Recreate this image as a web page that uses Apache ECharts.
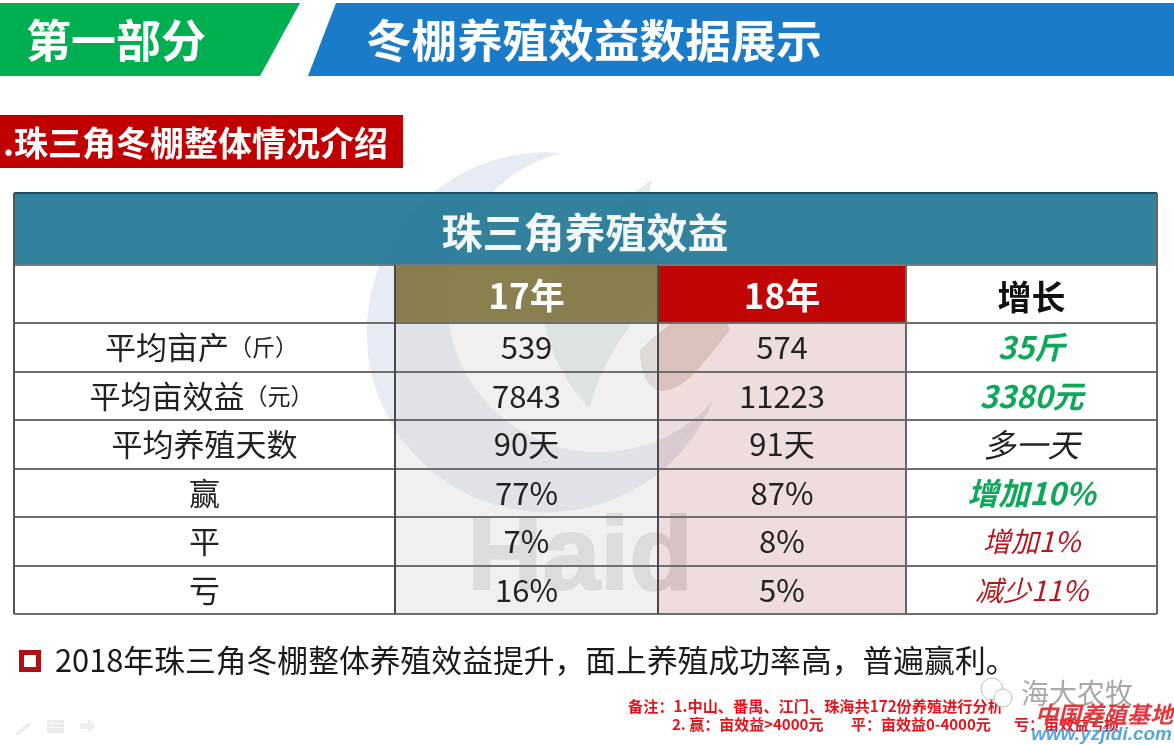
<!DOCTYPE html>
<html>
<head>
<meta charset="utf-8">
<title>冬棚养殖效益数据展示</title>
<script src="https://cdn.jsdelivr.net/npm/echarts@6/dist/echarts.min.js"></script>
<style>
  html, body { margin: 0; padding: 0; background: #fff; }
  #main { width: 1174px; height: 745px; }
</style>
</head>
<body>
<div id="main"></div>
<script>
// 表格数据
const tableTitle = '珠三角养殖效益';
const columnHeads = ['', '17年', '18年', '增长'];
const rowLabels = ['平均亩产', '平均亩效益', '平均养殖天数', '赢', '平', '亏'];
const rowUnits = ['（斤）', '（元）', '', '', '', ''];
const values17 = ['539', '7843', '90天', '77%', '7%', '16%'];
const values18 = ['574', '11223', '91天', '87%', '8%', '5%'];
const growthText = ['35斤', '3380元', '多一天', '增加10%', '增加1%', '减少11%'];
const growthKind = ['up', 'up', 'flat', 'up', 'down', 'down'];

const summaryText = '2018年珠三角冬棚整体养殖效益提升，面上养殖成功率高，普遍赢利。';
const noteLine1 = '备注：1.中山、番禺、江门、珠海共172份养殖进行分析';
const noteLine2 = ['2. 赢：亩效益>4000元', '平：亩效益0-4000元', '亏：亩效益亏损'];

// 版面
const colX = [14, 395, 658, 906, 1157];
const rowY = [265, 323, 372, 420, 469, 517, 566, 614];
const CJK = '"Noto Sans CJK SC", "Noto Sans", sans-serif';
const growthStyle = {
    up: {fill: '#0FA85A', fontWeight: 'bold', fontSize: 31},
    flat: {fill: '#222', fontWeight: 'normal', fontSize: 32},
    down: {fill: '#B8141C', fontWeight: 'normal', fontSize: 28}
};

const items = [];
let pathCount = 0;

function text(str, x, y, size, fill, extra) {
    items.push({
        type: 'text',
        style: Object.assign({
            text: str, x: x, y: y, fontSize: size, fill: fill, fontFamily: CJK,
            align: 'center', verticalAlign: 'middle'
        }, extra || {})
    });
}
function rect(x, y, w, h, fill) {
    items.push({type: 'rect', shape: {x: x, y: y, width: w, height: h}, style: {fill: fill}});
}
function line(x1, y1, x2, y2, color, width) {
    items.push({type: 'line', shape: {x1: x1, y1: y1, x2: x2, y2: y2}, style: {stroke: color, lineWidth: width}});
}
function poly(points, fill) {
    items.push({type: 'polygon', shape: {points: points}, style: {fill: fill}});
}
function path(d, fill) {
    // graphic 组件没有 path 类型，注册成自定义形状
    const name = 'wmPath' + (pathCount++);
    echarts.graphic.registerShape(name, echarts.graphic.extendPath(d, {}));
    items.push({type: name, style: {fill: fill}});
}

// 背景水印
path('M 562 153 A 180 180 0 1 0 713 401 A 152 152 0 1 1 562 153 Z', '#E7ECF4');
path('M 652 180 C 610 205 565 260 541 300 C 545 345 565 385 590 408 C 600 360 640 310 672 270 C 650 260 640 225 652 180 Z', '#E4EDE8');
path('M 745 272 C 705 300 665 325 640 350 C 640 375 650 395 668 390 C 690 385 705 360 730 330 C 720 310 730 290 745 272 Z', '#E8E0DA');
path('M 713 401 C 695 425 675 445 660 452 C 685 440 700 425 713 401 Z', '#E4E4E4');
text('Haid', 580, 560, 104, '#E2E2E2', {
    fontFamily: '"Liberation Sans", Arial, sans-serif', fontWeight: 'bold',
    stroke: '#E2E2E2', lineWidth: 2
});

// 顶部标题
poly([[0, 3], [300, 3], [260, 76], [0, 76]], '#00B050');
poly([[336, 3], [1174, 3], [1174, 76], [308, 76]], '#1A7BC8');
text('第一部分', 26, 41, 45, '#fff', {fontWeight: 'bold', align: 'left'});
text('冬棚养殖效益数据展示', 366, 41, 45.6, '#fff', {fontWeight: 'bold', align: 'left'});

rect(0, 115, 403, 53, '#C00000');
text('.珠三角冬棚整体情况介绍', 3, 143, 34, '#fff', {fontWeight: 'bold', align: 'left'});

// 表头
rect(colX[0], 193, colX[4] - colX[0], rowY[0] - 193, 'rgba(28,115,146,0.9)');
text(tableTitle, 585, 232, 41, '#F2F7F7', {fontWeight: 'bold'});
rect(colX[1], rowY[0], colX[2] - colX[1], rowY[1] - rowY[0], 'rgba(128,116,64,0.92)');
rect(colX[2], rowY[0], colX[3] - colX[2], rowY[1] - rowY[0], 'rgba(192,0,0,0.98)');
rect(colX[1], rowY[1], colX[2] - colX[1], rowY[7] - rowY[1], 'rgba(205,205,205,0.3)');
rect(colX[2], rowY[1], colX[3] - colX[2], rowY[7] - rowY[1], 'rgba(150,20,20,0.15)');
rect(colX[3], rowY[0], colX[4] - colX[3], rowY[7] - rowY[0], '#fff');

text(columnHeads[1], (colX[1] + colX[2]) / 2, 296, 35, '#fff', {fontWeight: 'bold'});
text(columnHeads[2], (colX[2] + colX[3]) / 2, 296, 35, '#fff', {fontWeight: 'bold'});
text(columnHeads[3], (colX[3] + colX[4]) / 2, 297, 34, '#111', {fontWeight: 'bold'});

// 表格内容
rowLabels.forEach(function (label, i) {
    const cy = (rowY[i + 1] + rowY[i + 2]) / 2;
    const lx = (colX[0] + colX[1]) / 2;
    if (rowUnits[i]) {
        text('{a|' + label + '}{b|' + rowUnits[i] + '}', lx - 3, cy, 31, '#222', {
            rich: {
                a: {fontSize: 31, fontFamily: CJK, fill: '#222'},
                b: {fontSize: 23, fontFamily: CJK, fill: '#222'}
            }
        });
    } else {
        text(label, lx, cy, 31, '#222');
    }
    text(values17[i], (colX[1] + colX[2]) / 2, cy, 31, '#222');
    text(values18[i], (colX[2] + colX[3]) / 2, cy, 31, '#222');
    const st = growthStyle[growthKind[i]];
    text(growthText[i], (colX[3] + colX[4]) / 2, cy, st.fontSize, st.fill, {fontWeight: st.fontWeight, fontStyle: 'italic'});
});

// 表格线
line(colX[0], 193, colX[4], 193, '#1D4F61', 2);
rowY.forEach(function (y, i) {
    line(colX[0], y, colX[4], y, i === 0 ? '#6E7B84' : '#6F6F6F', 2);
});
line(colX[0], 193, colX[0], rowY[7], '#555', 2);
line(colX[4], 193, colX[4], rowY[7], '#666', 2);
line(colX[1], rowY[0], colX[1], rowY[7], '#4A4A4A', 2);
line(colX[2], rowY[0], colX[2], rowY[7], '#4A4A4A', 2);
line(colX[3], rowY[0], colX[3], rowY[7], '#666', 2);

// 底部说明
items.push({type: 'rect', shape: {x: 21.5, y: 652.5, width: 17, height: 17}, style: {fill: '#fff', stroke: '#B20F14', lineWidth: 5}});
text(summaryText, 55, 660, 30.8, '#1A1A1A', {align: 'left'});

const noteStyle = {align: 'left', fontWeight: 'bold'};
text(noteLine1, 628, 706, 15.2, '#E5141B', noteStyle);
text(noteLine2[0], 672, 724, 15, '#E5141B', noteStyle);
text(noteLine2[1], 851, 724, 15, '#E5141B', noteStyle);
text(noteLine2[2], 1014, 724, 15, '#E5141B', noteStyle);

// 右下角公众号水印
items.push({type: 'circle', shape: {cx: 992, cy: 689, r: 11}, style: {fill: 'none', stroke: '#BDBDBD', lineWidth: 1}});
items.push({type: 'circle', shape: {cx: 1003, cy: 698, r: 9}, style: {fill: '#fff', stroke: '#BDBDBD', lineWidth: 1}});
text('海大农牧', 1021, 693, 28, '#A8A8A8', {align: 'left', fontWeight: 'normal'});
text('中国养殖基地', 1035, 714, 23, '#E2383E', {align: 'left', fontWeight: 'bold', fontStyle: 'italic'});
text('www.yzjidi.com', 1172, 735, 19, '#5AA5DC', {align: 'right', fontWeight: 'bold', fontStyle: 'italic', fontFamily: '"Liberation Sans", sans-serif'});

// 左下角工具图标
poly([[15, 734], [28, 723], [31, 725], [18, 735]], '#ECECEC');
rect(47, 720, 17, 13, '#ECECEC');
rect(49, 723, 13, 1, '#fff');
rect(49, 727, 13, 1, '#fff');
poly([[80, 723], [88, 723], [88, 719], [96, 726], [88, 733], [88, 729], [80, 729]], '#EEEEEE');

const chart = echarts.init(document.getElementById('main'));
chart.setOption({
    backgroundColor: '#fff',
    animation: false,
    graphic: {elements: items}
});
window.addEventListener('resize', function () { chart.resize(); });
</script>
</body>
</html>
